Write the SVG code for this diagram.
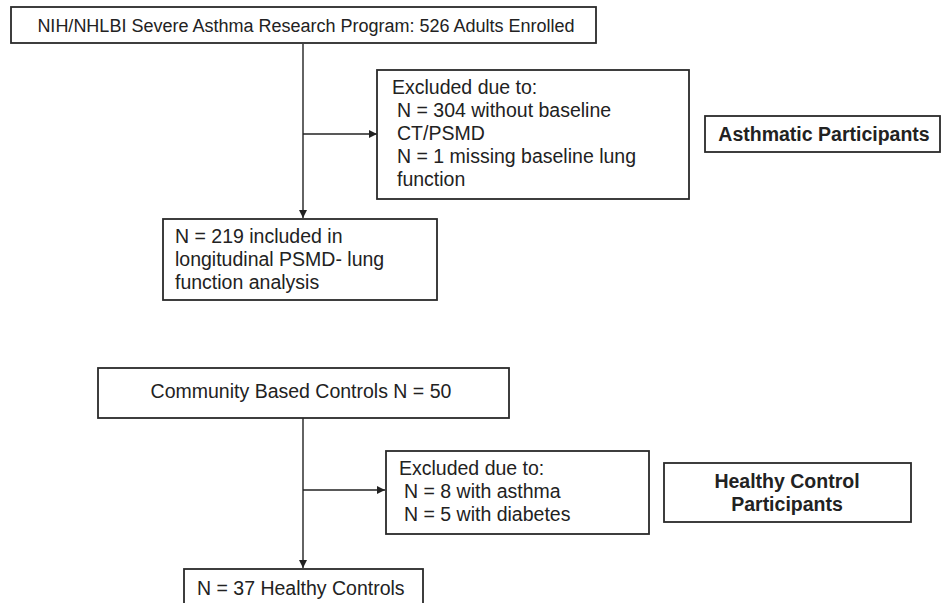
<svg xmlns="http://www.w3.org/2000/svg" width="942" height="603" viewBox="0 0 942 603">
<style>
  .box { fill: #ffffff; stroke: #2a2a2a; stroke-width: 1.8; }
  .txt { font-family: "Liberation Sans", Arial, sans-serif; font-size: 19.5px; fill: #222222; }
  .title { font-size: 18px; }
  .bold { font-weight: bold; }
  .conn { fill: none; stroke: #222222; stroke-width: 1.4; }
</style>
<defs>
  <marker id="arrow" viewBox="0 0 10 10" refX="10" refY="5" markerWidth="8" markerHeight="8" markerUnits="userSpaceOnUse" orient="auto">
    <path d="M0,0 L10,5 L0,10 Z" fill="#222222"/>
  </marker>
</defs>
<rect width="942" height="603" fill="#ffffff"/>

<g id="connectors">
  <line class="conn" x1="303" y1="44" x2="303" y2="218" marker-end="url(#arrow)"/>
  <line class="conn" x1="303" y1="134" x2="377" y2="134" marker-end="url(#arrow)"/>
  <line class="conn" x1="303" y1="418" x2="303" y2="568" marker-end="url(#arrow)"/>
  <line class="conn" x1="303" y1="490" x2="385" y2="490" marker-end="url(#arrow)"/>
</g>

<g id="node-sarp">
  <rect class="box" x="11" y="7" width="585" height="36"/>
  <text class="txt title" x="306" y="32" text-anchor="middle">NIH/NHLBI Severe Asthma Research Program: 526 Adults Enrolled</text>
</g>

<g id="node-excluded-asthma">
  <rect class="box" x="377" y="70" width="312" height="129"/>
  <text class="txt" x="392" y="94">Excluded due to:</text>
  <text class="txt" x="397" y="117">N = 304 without baseline</text>
  <text class="txt" x="397" y="140">CT/PSMD</text>
  <text class="txt" x="397" y="163">N = 1 missing baseline lung</text>
  <text class="txt" x="397" y="186">function</text>
</g>

<g id="node-asthmatic-label">
  <rect class="box" x="705" y="116" width="235" height="36"/>
  <text class="txt bold" x="824" y="141" text-anchor="middle">Asthmatic Participants</text>
</g>

<g id="node-included">
  <rect class="box" x="163" y="219" width="274" height="81"/>
  <text class="txt" x="175" y="243">N = 219 included in</text>
  <text class="txt" x="175" y="266">longitudinal PSMD- lung</text>
  <text class="txt" x="175" y="289">function analysis</text>
</g>

<g id="node-community">
  <rect class="box" x="98" y="368" width="411" height="50"/>
  <text class="txt" x="301" y="398" text-anchor="middle">Community Based Controls N = 50</text>
</g>

<g id="node-excluded-controls">
  <rect class="box" x="386" y="451" width="263" height="83"/>
  <text class="txt" x="399" y="475">Excluded due to:</text>
  <text class="txt" x="404" y="498">N = 8 with asthma</text>
  <text class="txt" x="404" y="521">N = 5 with diabetes</text>
</g>

<g id="node-healthy-label">
  <rect class="box" x="664" y="463" width="247" height="59"/>
  <text class="txt bold" x="787" y="488" text-anchor="middle">Healthy Control</text>
  <text class="txt bold" x="787" y="511" text-anchor="middle">Participants</text>
</g>

<g id="node-healthy-controls">
  <rect class="box" x="184" y="569" width="239" height="50"/>
  <text class="txt" x="197" y="595">N = 37 Healthy Controls</text>
</g>
</svg>
